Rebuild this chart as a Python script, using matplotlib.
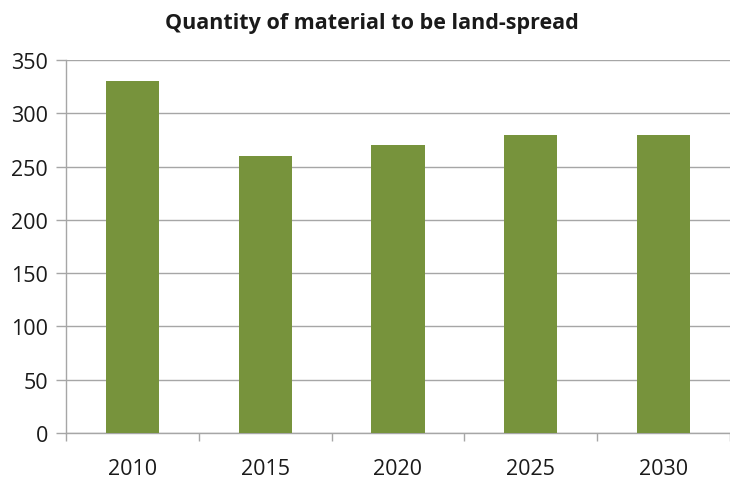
import matplotlib
matplotlib.use("Agg")
import matplotlib.pyplot as plt
from matplotlib.ticker import FixedLocator

GREEN = "#77933c"
GRID = "#a6a6a6"
INK = "#1a1a1a"

years = ["2010", "2015", "2020", "2025", "2030"]
quantity = [330, 260, 270, 280, 280]
yticks = [0, 50, 100, 150, 200, 250, 300, 350]

plt.rcParams["font.family"] = ["Open Sans", "DejaVu Sans"]

fig = plt.figure(figsize=(7.3, 4.81), dpi=100)
ax = fig.add_axes([0.0904, 0.0977, 0.9096, 0.7753])

x = range(len(years))
ax.bar(x, quantity, width=0.4, color=GREEN, zorder=3)

ax.set_xlim(-0.5, len(years) - 0.5)
ax.set_ylim(0, 350)
ax.yaxis.set_major_locator(FixedLocator(yticks))
ax.grid(axis="y", color=GRID, lw=1.0, zorder=0)

ax.set_xticks(list(x))
ax.set_xticklabels(years)
ax.xaxis.set_minor_locator(FixedLocator([i - 0.5 for i in range(len(years) + 1)]))
ax.tick_params(axis="x", which="major", length=0, pad=18, labelsize=15.5, colors=INK)
ax.tick_params(axis="x", which="minor", length=6, color=GRID, width=1.0)
ax.tick_params(axis="y", length=7, color=GRID, width=1.0, pad=6, labelsize=15.5)
ax.tick_params(axis="y", colors=GRID, labelcolor=INK)

for s in ("top", "right"):
    ax.spines[s].set_visible(False)
for s in ("left", "bottom"):
    ax.spines[s].set_color(GRID)
    ax.spines[s].set_linewidth(1.0)

fig.suptitle("Quantity of material to be land-spread", x=0.51, y=0.972,
             fontsize=15.5, fontweight="bold", color=INK)

fig.savefig("out.png", dpi=100, facecolor="white")
